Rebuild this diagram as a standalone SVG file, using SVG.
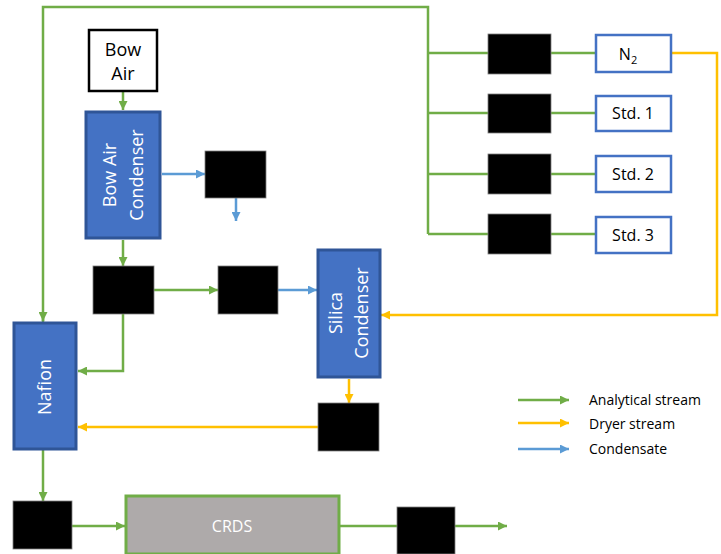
<svg xmlns="http://www.w3.org/2000/svg" width="721" height="554" viewBox="0 0 721 554">
<style>
.g{stroke:#70AD47;stroke-width:2.5;fill:none}
.y{stroke:#FFC000;stroke-width:2.5;fill:none}
.b{stroke:#5B9BD5;stroke-width:2.5;fill:none}
.blk{fill:#000;stroke:#7f7f7f;stroke-width:0.8}
.cond{fill:#4472C4;stroke:#2F5597;stroke-width:3}
.std{fill:#fff;stroke:#4472C4;stroke-width:2.5}
.t{font-family:"Open Sans","Liberation Sans",sans-serif;fill:#000}
.w{font-family:"Open Sans","Liberation Sans",sans-serif;fill:#fff}
</style>
<defs>
<marker id="ag" markerUnits="userSpaceOnUse" markerWidth="9" markerHeight="9" refX="9" refY="4.5" orient="auto"><path d="M0,0 L9,4.5 L0,9 z" fill="#70AD47"/></marker>
<marker id="ay" markerUnits="userSpaceOnUse" markerWidth="9" markerHeight="9" refX="9" refY="4.5" orient="auto"><path d="M0,0 L9,4.5 L0,9 z" fill="#FFC000"/></marker>
<marker id="ab" markerUnits="userSpaceOnUse" markerWidth="9" markerHeight="9" refX="9" refY="4.5" orient="auto"><path d="M0,0 L9,4.5 L0,9 z" fill="#5B9BD5"/></marker>
</defs>
<rect width="721" height="554" fill="#fff"/>
<g id="connectors">
<path class="g" d="M43,322 V7 H428 V234"/>
<path class="g" d="M428,53 H488 M551,53 H596"/>
<path class="g" d="M428,113 H488 M551,113 H596"/>
<path class="g" d="M428,174 H488 M551,174 H596"/>
<path class="g" d="M428,234 H488 M551,234 H596"/>
<path class="g" d="M43,313 V321" marker-end="url(#ag)"/>
<path class="g" d="M123,92 V110" marker-end="url(#ag)"/>
<path class="g" d="M123,240 V266" marker-end="url(#ag)"/>
<path class="g" d="M154,290 H218" marker-end="url(#ag)"/>
<path class="g" d="M123,314 V371 H78" marker-end="url(#ag)"/>
<path class="g" d="M43,450 V501" marker-end="url(#ag)"/>
<path class="g" d="M72,526 H125" marker-end="url(#ag)"/>
<path class="g" d="M340,526 H397"/>
<path class="g" d="M455,526 H507" marker-end="url(#ag)"/>
<path class="b" d="M162,174 H205" marker-end="url(#ab)"/>
<path class="b" d="M236,198 V221" marker-end="url(#ab)"/>
<path class="b" d="M278,290 H317" marker-end="url(#ab)"/>
<path class="y" d="M672,53 H717 V315 H381" marker-end="url(#ay)"/>
<path class="y" d="M349,379 V403" marker-end="url(#ay)"/>
<path class="y" d="M318,427 H78" marker-end="url(#ay)"/>
<path class="g" d="M518,400 H569" marker-end="url(#ag)"/>
<path class="y" d="M518,423 H569" marker-end="url(#ay)"/>
<path class="b" d="M518,449 H569" marker-end="url(#ab)"/>
</g>
<g id="bow-air">
<rect x="89" y="30" width="68" height="61" fill="#fff" stroke="#000" stroke-width="2.5"/>
<text class="t" x="123" y="56" font-size="18" text-anchor="middle">Bow</text>
<text class="t" x="123" y="80" font-size="18" text-anchor="middle">Air</text>
</g>
<g id="bow-air-condenser">
<rect class="cond" x="86" y="112" width="74" height="126"/>
<text class="w" font-size="18" text-anchor="middle" transform="translate(116,175) rotate(-90)">Bow Air</text>
<text class="w" font-size="18" text-anchor="middle" transform="translate(143,175) rotate(-90)">Condenser</text>
</g>
<g id="box-cond-drain"><rect class="blk" x="205" y="151" width="61" height="47"/></g>
<g id="box-a"><rect class="blk" x="93" y="266" width="61" height="48"/></g>
<g id="box-b"><rect class="blk" x="218" y="266" width="60" height="48"/></g>
<g id="silica-condenser">
<rect class="cond" x="318" y="250" width="62" height="127"/>
<text class="w" font-size="18" text-anchor="middle" transform="translate(342,313) rotate(-90)">Silica</text>
<text class="w" font-size="18" text-anchor="middle" transform="translate(368,313) rotate(-90)">Condenser</text>
</g>
<g id="box-c"><rect class="blk" x="318" y="403" width="61" height="48"/></g>
<g id="nafion">
<rect class="cond" x="14" y="323" width="62" height="126"/>
<text class="w" font-size="18" text-anchor="middle" transform="translate(51,387) rotate(-90)">Nafion</text>
</g>
<g id="v-n2"><rect class="blk" x="488" y="34" width="63" height="40"/></g>
<g id="v-std1"><rect class="blk" x="488" y="94" width="63" height="39"/></g>
<g id="v-std2"><rect class="blk" x="488" y="154" width="63" height="40"/></g>
<g id="v-std3"><rect class="blk" x="488" y="214" width="63" height="40"/></g>
<g id="n2">
<rect class="std" x="596" y="35" width="75" height="37"/>
<text class="t" x="628" y="60" font-size="16" text-anchor="middle">N<tspan font-size="11" dy="4">2</tspan></text>
</g>
<g id="std1">
<rect class="std" x="596" y="96" width="75" height="35"/>
<text class="t" x="633" y="119" font-size="16" text-anchor="middle">Std. 1</text>
</g>
<g id="std2">
<rect class="std" x="596" y="156" width="75" height="36"/>
<text class="t" x="633" y="180" font-size="16" text-anchor="middle">Std. 2</text>
</g>
<g id="std3">
<rect class="std" x="596" y="217" width="75" height="36"/>
<text class="t" x="633" y="241" font-size="16" text-anchor="middle">Std. 3</text>
</g>
<g id="box-d"><rect class="blk" x="13" y="501" width="59" height="48"/></g>
<g id="crds">
<rect x="126" y="496" width="213" height="58" fill="#AEAAAA" stroke="#70AD47" stroke-width="3"/>
<text class="w" x="232" y="532" font-size="16" text-anchor="middle">CRDS</text>
</g>
<g id="box-e"><rect class="blk" x="397" y="507" width="58" height="47"/></g>
<g id="legend">
<text class="t" x="589" y="405" font-size="14">Analytical stream</text>
<text class="t" x="589" y="429" font-size="14">Dryer stream</text>
<text class="t" x="589" y="454" font-size="14">Condensate</text>
</g>
</svg>
